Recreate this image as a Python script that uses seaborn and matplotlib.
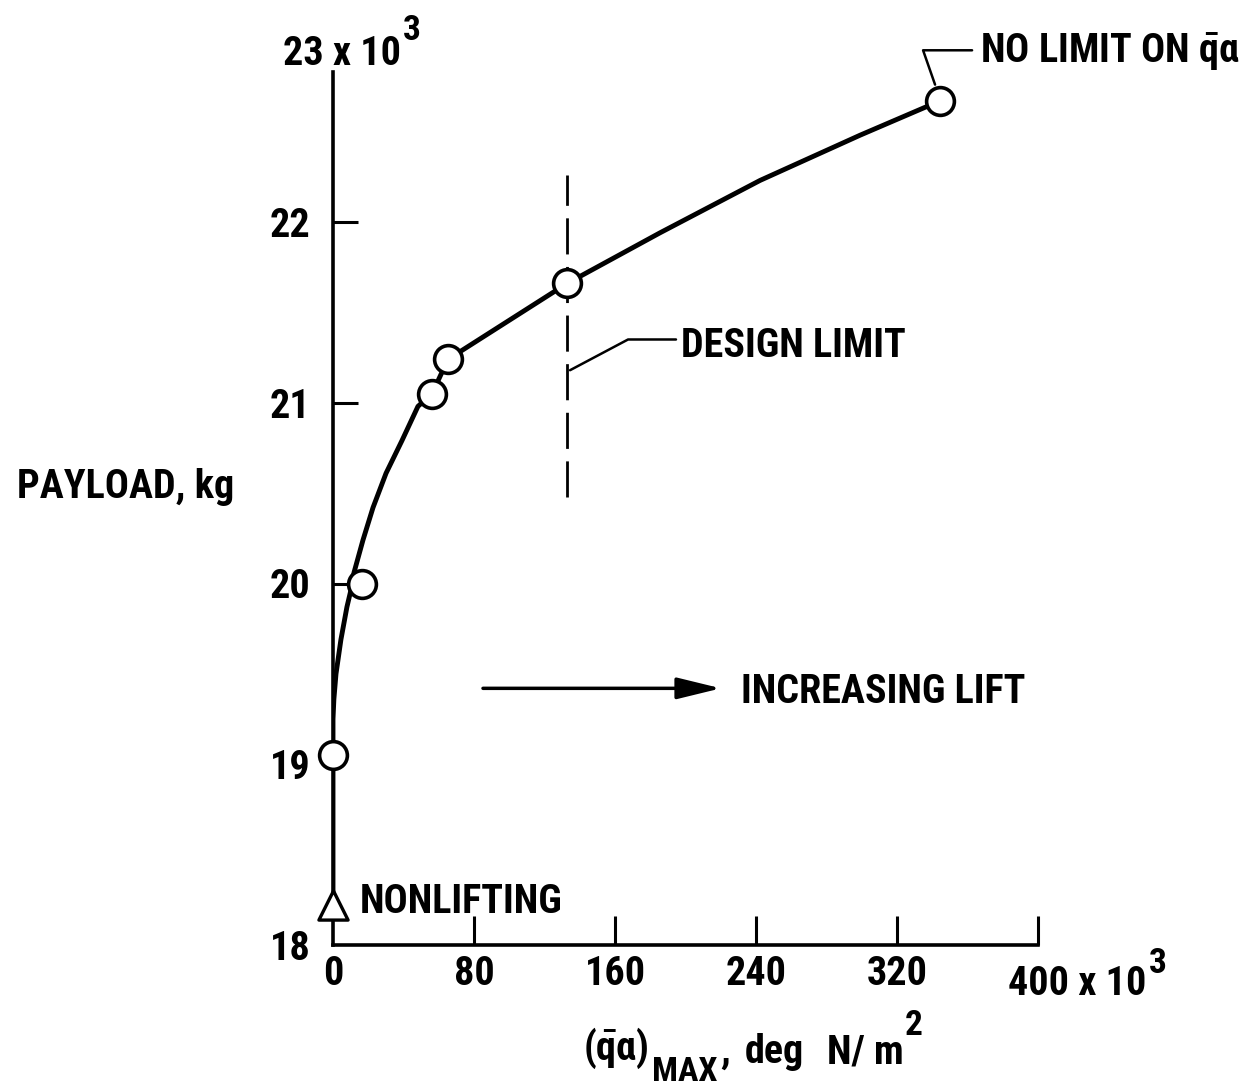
import matplotlib
matplotlib.use("Agg")
import matplotlib.pyplot as plt
from matplotlib import font_manager as fm
import seaborn as sns

# ---------------- data ----------------
# x: (q-bar alpha)_MAX in thousands of deg N/m^2 ; y: payload in thousands of kg
curve_qa = [0.0, 0.0, 0.0, 0.5, 1.7, 4.5, 7.9, 10.8, 11.9, 17.0, 22.7, 30.1,
            39.1, 48.2, 56.2, 65.2, 132.8, 185.5, 242.3, 299.0, 344.4]
curve_payload = [18.22, 19.05, 19.25, 19.36, 19.50, 19.69, 19.87, 19.99, 20.06,
                 20.24, 20.42, 20.61, 20.79, 20.98, 21.05, 21.24, 21.66, 21.94,
                 22.23, 22.48, 22.67]

point_qa = [0.0, 16.5, 56.2, 65.2, 132.8, 344.4]
point_payload = [19.05, 20.0, 21.05, 21.24, 21.66, 22.67]

nonlifting_qa = [0.0]
nonlifting_payload = [18.22]

design_limit_qa = 133.0
design_limit_payload = [20.48, 22.26]

x_ticks = [0, 80, 160, 240, 320, 400]
x_tick_labels = ["0", "80", "160", "240", "320", ""]
y_ticks = [18, 19, 20, 21, 22]
y_tick_labels = ["18", "19", "20", "21", "22"]

# ---------------- font choice (narrow sans if available) ----------------
ttf = fm.fontManager.ttflist
avail = {f.name for f in ttf}
chosen, stretch = None, "normal"
for c in ["Liberation Sans Narrow", "Roboto Condensed", "Open Sans Condensed",
          "Noto Sans Condensed", "DejaVu Sans Condensed", "Arial Narrow"]:
    if c in avail:
        chosen = c
        break
if chosen is None:
    for fam in ["DejaVu Sans", "Noto Sans", "Open Sans", "Roboto", "Liberation Sans"]:
        if any(f.name == fam and str(f.stretch) in ("condensed", "semi-condensed",
                                                     "extra-condensed")
               for f in ttf):
            chosen, stretch = fam, "condensed"
            break
if chosen is None:
    chosen = "Roboto" if "Roboto" in avail else "DejaVu Sans"

# ---------------- style ----------------
sns.set_theme(style="ticks")
plt.rcParams["font.family"] = [chosen, "DejaVu Sans"]
plt.rcParams["font.weight"] = "bold"
plt.rcParams["font.stretch"] = stretch
mspec = f"{chosen}:bold" + (":condensed" if stretch == "condensed" else "")
plt.rcParams["mathtext.fontset"] = "custom"
plt.rcParams["mathtext.rm"] = mspec
plt.rcParams["mathtext.it"] = mspec
plt.rcParams["mathtext.bf"] = mspec
for k in ["text.color", "axes.labelcolor", "xtick.color", "ytick.color", "axes.edgecolor"]:
    plt.rcParams[k] = "black"

W, H = 1246, 1087
fig = plt.figure(figsize=(W / 100, H / 100), dpi=100)
fig.patch.set_facecolor("white")

# fit the font size so that the text widths match the reference
probe = fig.text(0, 0, "INCREASING LIFT", fontsize=28, fontweight="bold")
fig.canvas.draw()
pw = probe.get_window_extent().width
probe.remove()
FS = 28 * max(0.72, min(1.1, 286.0 / pw))
SUP = FS * 0.88

ax = fig.add_axes([333 / W, (H - 945) / H, 705 / W, (945 - 41.25) / H])
ax.set_facecolor("white")


def ftext(xp, yp, s, **kw):
    """Place text at reference pixel coordinates (left, baseline)."""
    kw.setdefault("fontsize", FS)
    kw.setdefault("ha", "left")
    kw.setdefault("va", "baseline")
    return fig.text(xp / W, 1 - yp / H, s, fontweight="bold", **kw)


def after(prev, s, gap, yp, size=None):
    """Text starting `gap` pixels right of `prev`, baseline at pixel row yp."""
    return ax.annotate(s, xy=(1, H - yp), xycoords=(prev, "figure pixels"),
                       xytext=(gap, 0), textcoords="offset pixels",
                       fontsize=size or FS, fontweight="bold", ha="left",
                       va="baseline", annotation_clip=False)


# ---------------- marks ----------------
sns.lineplot(x=curve_qa, y=curve_payload, sort=False, estimator=None,
             color="black", linewidth=3.5, ax=ax, zorder=3)
ax.vlines(design_limit_qa, design_limit_payload[0], design_limit_payload[1],
          colors="black", linewidth=2.0, linestyles=(0, (13, 4.5)), zorder=2)
sns.scatterplot(x=point_qa, y=point_payload, marker="o", s=20 ** 2,
                facecolor="white", edgecolor="black", linewidth=2.6,
                ax=ax, zorder=5, clip_on=False)
sns.scatterplot(x=nonlifting_qa, y=nonlifting_payload, marker="^", s=21 ** 2,
                facecolor="white", edgecolor="black", linewidth=2.4,
                ax=ax, zorder=5, clip_on=False)

# ---------------- axes ----------------
ax.set_xlim(0, 400)
ax.set_ylim(18, 23)
ax.set_xticks(x_ticks)
ax.set_xticklabels(x_tick_labels, fontweight="bold")
ax.set_yticks(y_ticks)
ax.set_yticklabels(y_tick_labels, fontweight="bold")
ax.tick_params(axis="x", direction="in", length=21, width=2.2, pad=7, labelsize=FS)
ax.tick_params(axis="y", direction="in", length=18, width=2.2, pad=16, labelsize=FS)
ax.xaxis.get_major_ticks()[0].tick1line.set_visible(False)
ax.yaxis.get_major_ticks()[0].tick1line.set_visible(False)
ax.yaxis.get_major_ticks()[1].tick1line.set_visible(False)
sns.despine(ax=ax)
ax.spines["left"].set_bounds(18, 22.83)
ax.spines["bottom"].set_bounds(0, 400)
for sp in ("left", "bottom"):
    ax.spines[sp].set_linewidth(2.6)
    ax.spines[sp].set_capstyle("projecting")
ax.set_xlabel("")
ax.set_ylabel("")

# ---------------- annotations ----------------
ax.plot([134.5, 167.4, 194.6], [21.18, 21.35, 21.35], color="black", lw=1.8,
        clip_on=False, zorder=2)
ftext(681, 357, "DESIGN LIMIT")

ax.plot([341.6, 334.8, 362.6], [22.76, 22.95, 22.95], color="black", lw=1.8,
        clip_on=False, zorder=2)
ftext(980, 63, r"NO LIMIT ON $\bar{q}\alpha$")

ax.annotate("", xy=(220.1, 19.42), xytext=(85.1, 19.42),
            arrowprops=dict(arrowstyle="-|>,head_length=0.9,head_width=0.22",
                            color="black", lw=2.5, shrinkA=0, shrinkB=0,
                            mutation_scale=30))
ftext(741, 703, "INCREASING LIFT")

ftext(360, 913, "NONLIFTING")
ftext(17, 498, "PAYLOAD, kg")

# axis end labels with multipliers
t23 = ftext(283, 65, "23 x 10")
after(t23, "3", 2, 40, SUP)
t400 = ftext(1008, 995, "400 x 10")
after(t400, "3", 2, 973, SUP)

# x axis title
tq = ftext(583, 1060, r"$(\bar{q}\alpha)$")
tm = after(tq, "MAX", 3, 1081, FS * 0.85)
after(tm, ",", 3, 1063)
ftext(745, 1063, "deg")
tn = ftext(827, 1063, "N/ m")
after(tn, "2", 1, 1035, SUP)

fig.savefig("out.png", dpi=100, facecolor="white")
